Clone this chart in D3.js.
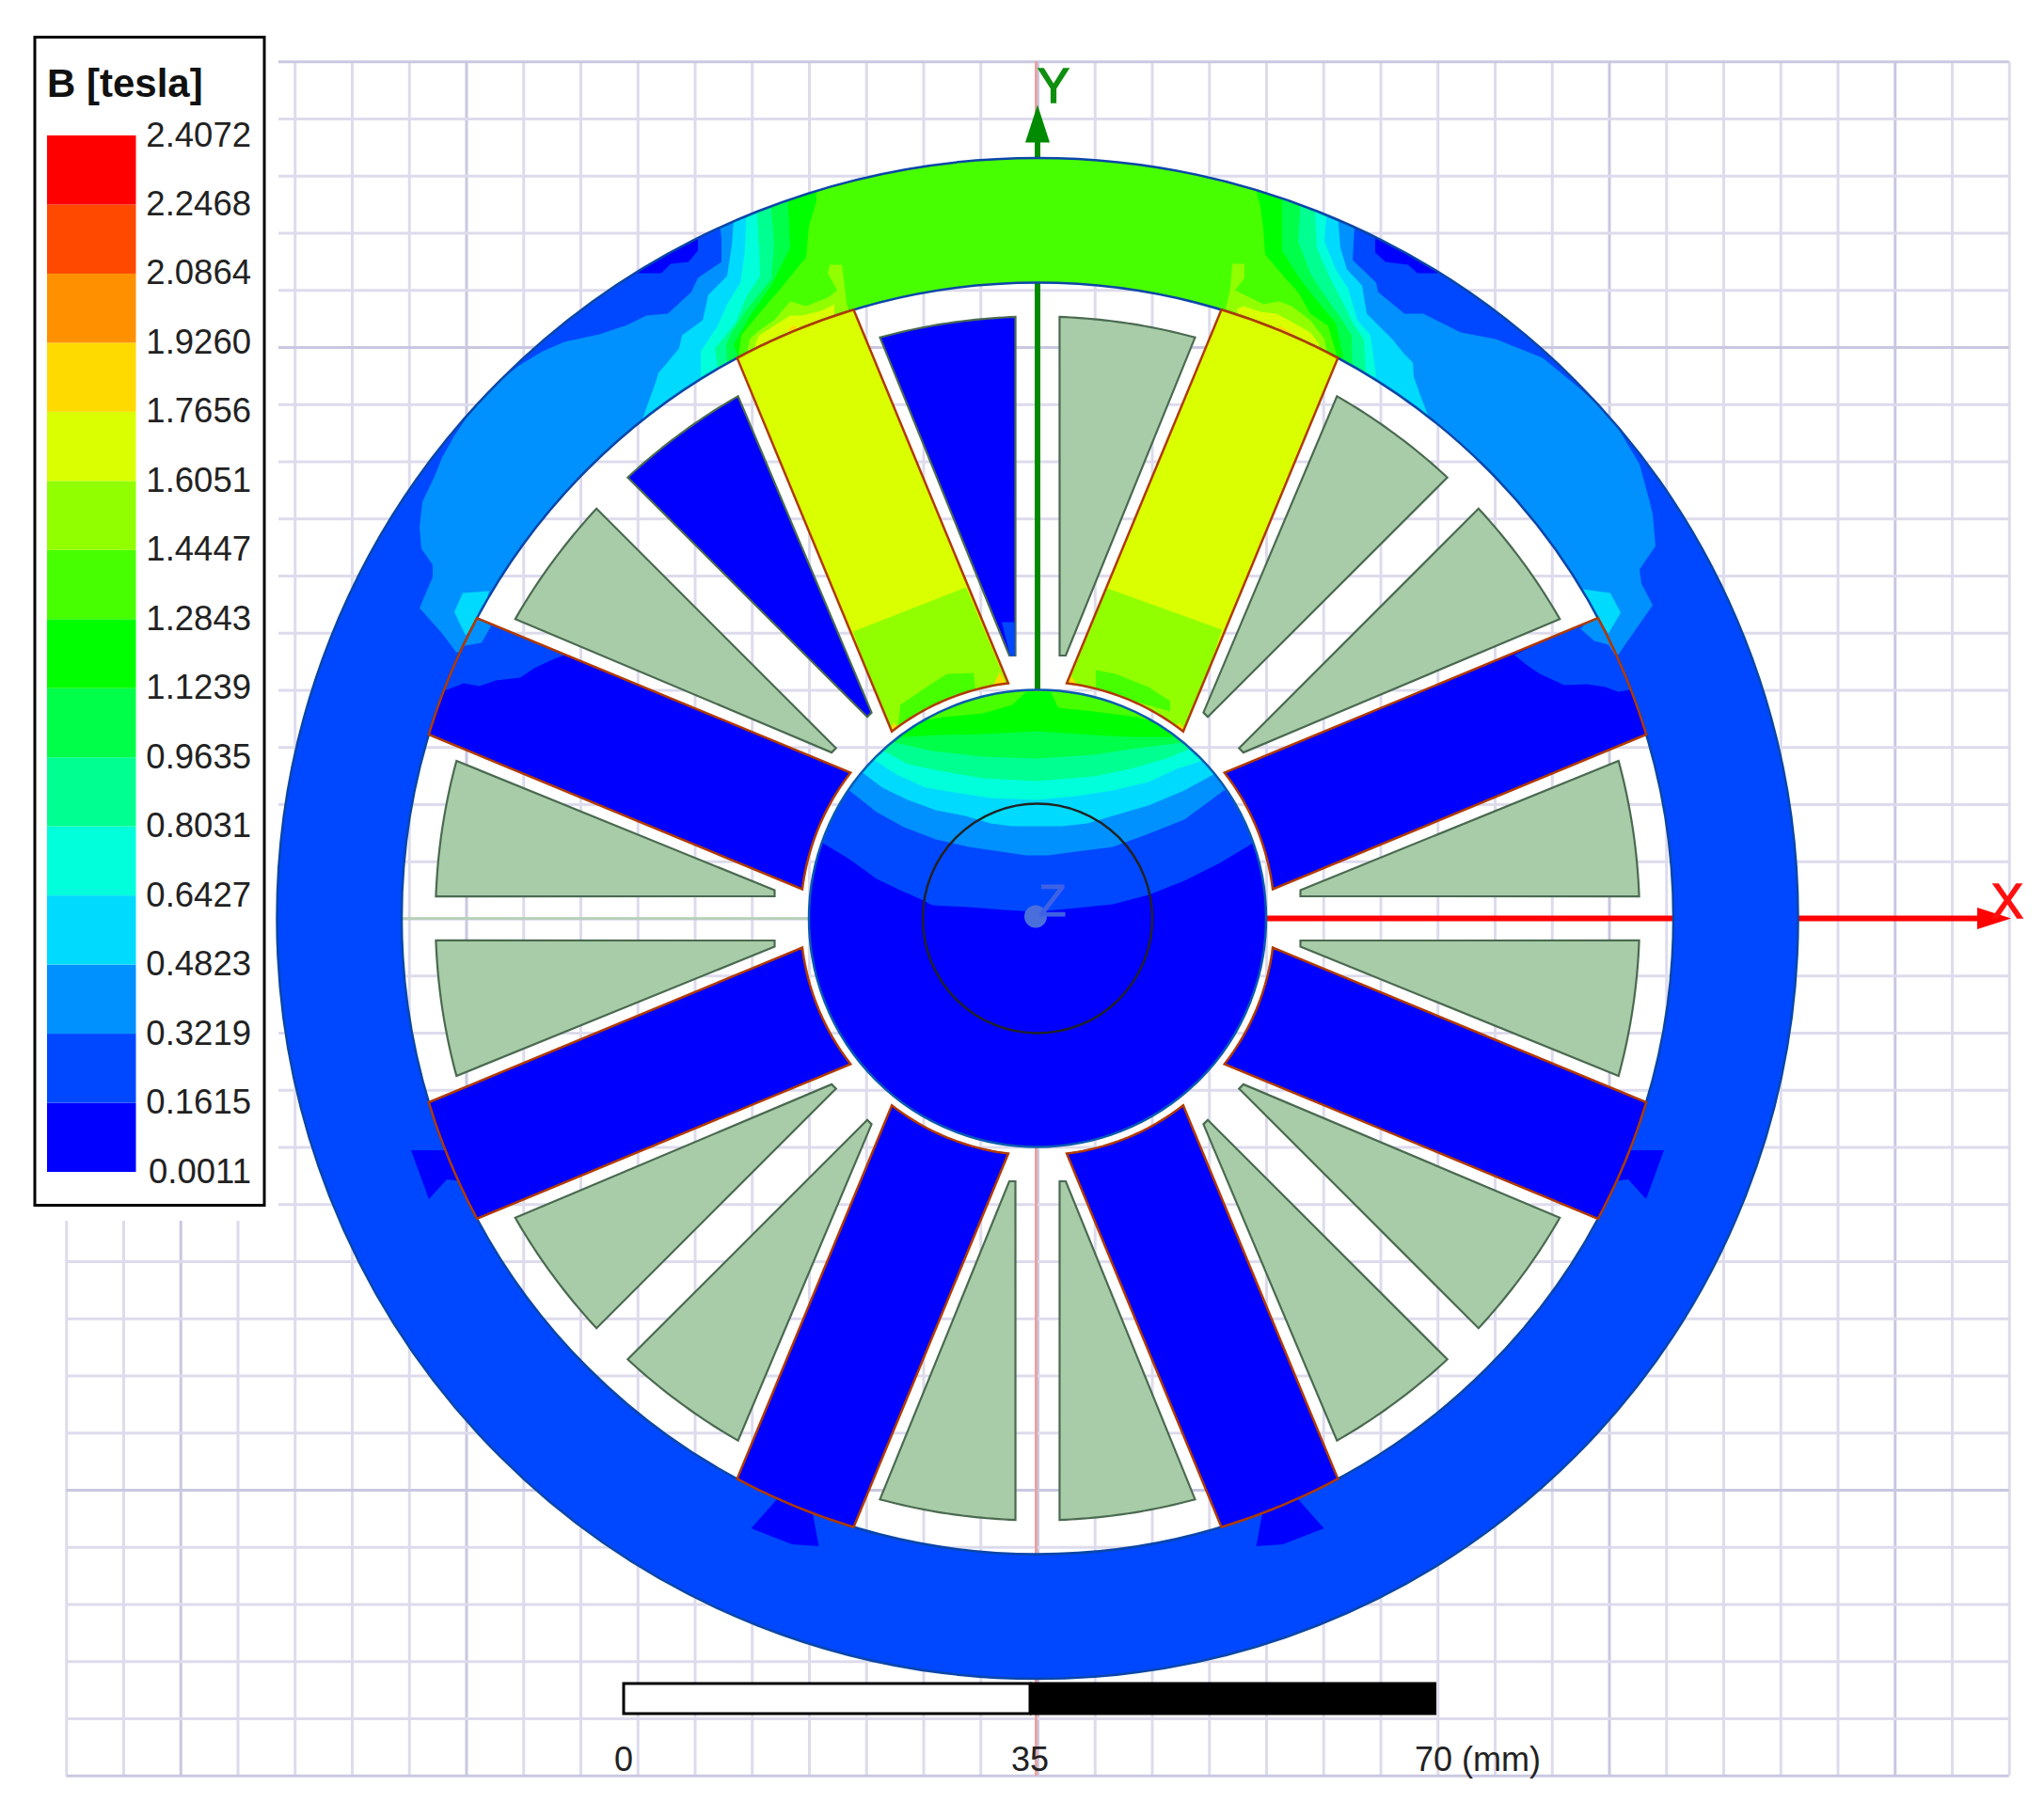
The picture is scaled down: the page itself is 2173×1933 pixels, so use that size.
<!DOCTYPE html>
<html>
<head>
<meta charset="utf-8">
<title>B [tesla]</title>
<script src="https://cdn.jsdelivr.net/npm/d3@7/dist/d3.min.js"></script>
<style>
body { margin: 0; background: #fff; }
text { font-family: "Liberation Sans", Arial, sans-serif; }
</style>
</head>
<body>
<svg width="2173" height="1933"></svg>
<script>
// legend, bottom band first
var legendValues = ["0.0011","0.1615","0.3219","0.4823","0.6427","0.8031","0.9635","1.1239","1.2843","1.4447","1.6051","1.7656","1.9260","2.0864","2.2468","2.4072"];
var bandColors = ["#0000ff","#0048ff","#0091ff","#00daff","#00ffda","#00ff91","#00ff48","#00ff00","#48ff00","#91ff00","#daff00","#ffda00","#ff9100","#ff4800","#ff0000"];
var scaleTicks = [0, 35, 70];
var gridX = d3.range(-17, 18);
var gridY = d3.range(-15, 16);

// machine outline, in model units from the axis origin
var ringOuter = 808.5, ringInner = 676, hubRadius = 243, shaftRadius = 122;
var spokeAngles = [67.5, 112.5, 22.5, 157.5, -22.5, -157.5, -67.5, -112.5];
var liveSpokes = [67.5, 112.5];
var slotAngles = [0, 45, 90, 135, 180, 225, 270, 315];
var liveCoils = ["90:1", "135:-1"];

// contour edges on the yoke, each goes from the bore side to the outer side
var left2 = [[-618,283],[-633,303],[-657,330],[-643,363],[-643,376],[-655,393],[-657,416],[-654,443],[-641,470],[-633,490],[-620,513],[-600,543],[-583,563],[-551,588],[-526,603],[-503,613],[-466,621],[-436,631],[-416,641],[-393,643],[-368,666],[-361,681],[-336,698],[-336,723],[-338,740]];
var left3 = [[-420,531],[-406,570],[-403,580],[-381,606],[-378,620],[-356,636],[-350,663],[-330,683],[-325,716],[-323,743]];
var left4 = [[-358,576],[-358,603],[-340,630],[-330,653],[-316,676],[-311,710],[-310,740]];
var left5 = [[-340,586],[-343,606],[-321,633],[-310,660],[-295,683],[-296,713],[-298,746]];
var left6 = [[-330,591],[-331,610],[-325,623],[-310,646],[-283,680],[-280,716],[-283,753]];
var left7 = [[-318,596],[-323,610],[-306,640],[-283,673],[-263,713],[-265,756]];
var left8 = [[-318,596],[-315,620],[-296,643],[-273,670],[-246,703],[-243,736],[-235,763]];
// right side runs the other way, outer side to bore side
var right8 = [[232,776],[237,756],[240,733],[242,706],[264,680],[277,666],[290,643],[309,630],[319,596]];
var right7 = [[260,761],[260,710],[277,683],[292,663],[317,633],[325,596]];
var right6 = [[279,750],[277,720],[290,686],[300,670],[324,636],[334,620],[335,586]];
var right5 = [[295,750],[297,713],[310,683],[324,656],[337,630],[347,616],[349,580]];
var right4 = [[307,745],[305,720],[317,690],[330,670],[340,636],[354,620],[360,576]];
var right3 = [[320,738],[322,713],[329,690],[345,673],[350,643],[377,616],[390,600],[399,591],[400,576],[407,556],[417,530]];
var right2 = [[337,735],[335,700],[360,676],[362,666],[390,643],[410,643],[450,623],[487,616],[537,596],[577,563],[610,533],[640,483],[650,446],[654,430],[657,396],[640,371],[642,356],[654,333],[617,280]];
var yokeLayers = [[2,left2,right2],[3,left3,right3],[4,left4,right4],[5,left5,right5],[6,left6,right6],[7,left7,right7],[8,left8,right8]];

// small patches on the yoke: [band, points]
var yokePatches = [
  [3, [[-620,326],[-611,346],[-583,348],[-590,320],[-608,301],[-613,311]]],
  [3, [[580,350],[609,346],[620,325],[607,303],[592,323]]],
  [0, [[-361,723],[-361,710],[-371,698],[-390,696],[-400,686],[-425,686],[-425,760],[-361,800]]],
  [0, [[359,723],[359,708],[370,698],[394,695],[404,686],[425,686],[425,760],[359,800]]],
  [0, [[-666,-246.5],[-625,-246.5],[-612,-279.5],[-628,-277.5],[-647,-298.5]]],
  [0, [[666,-246.5],[625,-246.5],[612,-279.5],[628,-277.5],[647,-298.5]]],
  [0, [[-276,-616.5],[-239,-632.5],[-232.5,-667.5],[-261,-665.5],[-304.5,-648.5]]],
  [0, [[276,-616.5],[239,-632.5],[232.5,-667.5],[261,-665.5],[304.5,-648.5]]],
  [9, [[-308,606],[-306,616],[-296,625],[-280,636],[-263,656],[-246,651],[-223,660],[-213,668],[-223,686],[-221,695],[-208,695],[-206,680],[-203,653],[-200,645],[-203,630],[-310,590]]],
  [10, [[-300,611],[-296,620],[-280,630],[-263,641],[-250,641],[-230,646],[-216,653],[-216,646],[-216,630],[-300,590]]],
  [11, [[-265,626],[-260,631],[-255,628],[-260,615]]],
  [9, [[205,670],[207,696],[220,696],[220,681],[210,668],[220,663],[240,653],[257,656],[270,651],[290,636],[305,616],[309,595],[200,630],[200,648]]],
  [10, [[212,648],[219,651],[237,645],[254,643],[267,636],[290,623],[300,610],[290,590],[212,630]]],
  [11, [[255,630],[262,628],[274,620],[255,610]]]
];

// patches inside single spokes: [spoke angle, band, points]
var spokePatches = [
  [157.5, 1, [[-596,323],[-503,280],[-516,275],[-535,266],[-550,256],[-576,253],[-593,247],[-610,250],[-628,243],[-643,243],[-606,326]]],
  [157.5, 2, [[-595,320],[-581,311],[-591,293],[-608,290],[-613,290],[-600,320]]],
  [22.5, 1, [[592,321],[507,280],[522,268],[534,260],[560,248],[584,249],[604,246],[617,241],[630,243],[624,303],[610,323]]],
  [22.5, 2, [[577,308],[592,295],[607,291],[614,280],[624,286],[604,320],[592,321]]],
  [112.5, 9, [[-196,305],[-76,352],[-30,243],[-158,193]]],
  [67.5, 9, [[74,351],[196,307],[158,193],[30,243]]],
  [112.5, 8, [[-146,227],[-112,250],[-96,260],[-68,261],[-66,243],[-148,203]]],
  [67.5, 8, [[62,264],[83,260],[118,246],[141,231],[141,220],[62,243]]],
  [112.5, 11, [[-40,262],[-33,248],[-48,246]]],
  [112.5, 11, [[-153,208],[-145,200],[-157,198]]],
  [67.5, 11, [[36,257],[43,248],[31,248]]],
  [67.5, 11, [[151,208],[157,200],[145,202]]]
];
var coilTip = [[-38,315],[-24,315],[-24,279],[-29,279]];

// lower edge of each contour band on the hub
var hub1 = [[-228,80],[-200,63],[-171,42],[-146,30],[-121,19],[-112,14],[-73,12],[-35,9],[-1,7],[41,11],[80,15],[118,25],[156,40],[194,59],[229,80]];
var hub2 = [[-200,136],[-171,113],[-142,97],[-108,84],[-73,76],[-39,71],[-12,67],[11,67],[41,71],[80,76],[118,90],[156,105],[198,136]];
var hub3 = [[-186,155],[-165,139],[-138,126],[-108,115],[-77,109],[-50,101],[-27,98],[26,98],[53,101],[80,109],[118,120],[156,136],[187,153]];
var hub4 = [[-173,168],[-150,153],[-119,139],[-89,134],[-50,128],[-1,126],[41,130],[80,136],[118,145],[148,159],[177,168]];
var hub5 = [[-163,178],[-138,164],[-104,157],[-58,149],[-1,146],[60,151],[99,159],[137,170],[166,182]];
var hub6 = [[-152,187],[-112,178],[-58,172],[-1,170],[60,174],[99,180],[154,187]];
var hub7 = [[-142,193],[-104,195],[-58,196],[-1,199],[60,195],[99,193],[141,193]];
var hub8 = [[-135,208],[-100,214],[-58,218],[-27,227],[-12,241],[14,241],[22,224],[60,220],[106,214],[133,206]];
var hubLayers = [[1,hub1],[2,hub2],[3,hub3],[4,hub4],[5,hub5],[6,hub6],[7,hub7],[8,hub8]];

var svg = d3.select("svg");

var x = d3.scaleLinear().domain([-1103, 1070]).range([0, 2173]);
var y = d3.scaleLinear().domain([976.5, -956.5]).range([0, 1933]);
var gridStep = 60.75;
var line = d3.line().x(function(d){ return x(d[0]); }).y(function(d){ return y(d[1]); });
var shape = function(pts){ return line(pts) + "Z"; };
var rad = function(deg){ return deg * Math.PI / 180; };
var polar = function(r, deg){ return [r * Math.cos(rad(deg)), r * Math.sin(rad(deg))]; };
var arcPts = function(r, a0, a1){
  return d3.range(0, 25).map(function(i){ return polar(r, a0 + (a1 - a0) * i / 24); });
};

// grid, drawn with the axis generators
var gridColor = function(k){ return k % 10 === 0 || k === -15 || k === 15 ? "#c9c8e1" : "#dddbec"; };
var gridTop = y(gridY[30] * gridStep), gridBottom = y(gridY[0] * gridStep);
var gridLeft = x(gridX[0] * gridStep), gridRight = x(gridX[34] * gridStep);
var gx = svg.append("g").attr("transform", "translate(0," + gridTop + ")")
  .call(d3.axisBottom(x).tickValues(gridX.map(function(k){ return k * gridStep; })).tickFormat("").tickSize(gridBottom - gridTop).tickSizeOuter(0));
gx.select(".domain").remove();
gx.selectAll(".tick line").attr("stroke-width", 3)
  .attr("stroke", function(d, i){ return gridColor(gridX[i]); });
var gy = svg.append("g").attr("transform", "translate(" + gridLeft + ",0)")
  .call(d3.axisRight(y).tickValues(gridY.map(function(k){ return k * gridStep; })).tickFormat("").tickSize(gridRight - gridLeft).tickSizeOuter(0));
gy.select(".domain").remove();
gy.selectAll(".tick line").attr("stroke-width", 3)
  .attr("stroke", function(d, i){ return gridColor(gridY[i]); });
// legend corner has no grid
svg.append("rect").attr("x", 0).attr("y", 0).attr("width", 296).attr("height", 1298).attr("fill", "#fff");

// axis lines behind the solids
svg.append("path").attr("d", line([[-1.5, y.invert(65)], [-1.5, y.invert(1888)]])).attr("stroke", "#e8a3a3").attr("stroke-width", 3).attr("fill", "none");
svg.append("path").attr("d", line([[-ringInner, 0], [0, 0]])).attr("stroke", "#b4d2b4").attr("stroke-width", 2.5).attr("fill", "none");
svg.append("path").attr("d", line([[0, 0], [0, 830]])).attr("stroke", "#008a00").attr("stroke-width", 6).attr("fill", "none");
svg.append("path").attr("d", line([[0, 0], [1000, 0]])).attr("stroke", "#ff0000").attr("stroke-width", 6).attr("fill", "none");

var defs = svg.append("defs");
var ringArc = d3.arc().innerRadius(x(ringInner) - x(0)).outerRadius(x(ringOuter) - x(0)).startAngle(0).endAngle(2 * Math.PI);
var originShift = "translate(" + x(0) + "," + y(0) + ")";
defs.append("clipPath").attr("id", "ring-clip").append("path").attr("d", ringArc()).attr("transform", originShift);
defs.append("clipPath").attr("id", "hub-clip").append("circle").attr("cx", x(0)).attr("cy", y(0)).attr("r", x(hubRadius) - x(0));

// yoke
var ring = svg.append("g").attr("clip-path", "url(#ring-clip)");
ring.append("circle").attr("cx", x(0)).attr("cy", y(0)).attr("r", x(ringOuter) - x(0)).attr("fill", bandColors[1]);
ring.selectAll(".yoke").data(yokeLayers).enter().append("path")
  .attr("fill", function(d){ return bandColors[d[0]]; })
  .attr("d", function(d){
    var l = d[1], r = d[2];
    return shape(l.concat([[l[l.length - 1][0], 900], [r[0][0], 900]], r));
  });
ring.selectAll(".patch").data(yokePatches).enter().append("path")
  .attr("fill", function(d){ return bandColors[d[0]]; })
  .attr("d", function(d){ return shape(d[1]); });
[ringOuter, ringInner].forEach(function(r){
  svg.append("circle").attr("cx", x(0)).attr("cy", y(0)).attr("r", x(r) - x(0))
    .attr("fill", "none").attr("stroke", "#0a46a8").attr("stroke-width", 2.5);
});

// coils
var coilPoints = function(angle, side){
  var local = [[279.5, 23.5], [279.5, 30]];
  arcPts(ringInner - 36, 15.17, 2.1).forEach(function(p){ local.push(p); });
  return local.map(function(p){
    var b = p[1] * side, c = Math.cos(rad(angle)), s = Math.sin(rad(angle));
    return [p[0] * c - b * s, p[0] * s + b * c];
  });
};
var coils = [];
slotAngles.forEach(function(a){ coils.push([a, 1]); coils.push([a, -1]); });
svg.selectAll(".coil").data(coils).enter().append("path")
  .attr("d", function(d){ return shape(coilPoints(d[0], d[1])); })
  .attr("fill", function(d){ return liveCoils.indexOf(d[0] + ":" + d[1]) >= 0 ? bandColors[0] : "#a8cca8"; })
  .attr("stroke", "#4a6a50").attr("stroke-width", 2.2);
svg.append("path").attr("d", shape(coilTip)).attr("fill", bandColors[1]);

// spokes
var spokePoints = function(angle){
  var half = 67, da = Math.asin(half / ringInner) * 180 / Math.PI, db = Math.asin(half / 252) * 180 / Math.PI;
  return arcPts(ringInner, angle - da, angle + da).concat(arcPts(252, angle + db, angle - db));
};
spokeAngles.forEach(function(a, i){
  defs.append("clipPath").attr("id", "spoke-" + i).append("path").attr("d", shape(spokePoints(a)));
  var g = svg.append("g").attr("clip-path", "url(#spoke-" + i + ")");
  g.append("path").attr("d", shape(spokePoints(a)))
    .attr("fill", liveSpokes.indexOf(a) >= 0 ? bandColors[10] : bandColors[0]);
  g.selectAll("path.p").data(spokePatches.filter(function(d){ return d[0] === a; })).enter().append("path")
    .attr("class", "p")
    .attr("fill", function(d){ return bandColors[d[1]]; })
    .attr("d", function(d){ return shape(d[2]); });
  svg.append("path").attr("d", shape(spokePoints(a))).attr("fill", "none")
    .attr("stroke", "#b03a00").attr("stroke-width", 2.5);
});

// hub
var hub = svg.append("g").attr("clip-path", "url(#hub-clip)");
hub.append("circle").attr("cx", x(0)).attr("cy", y(0)).attr("r", x(hubRadius) - x(0)).attr("fill", bandColors[0]);
hub.selectAll(".band").data(hubLayers).enter().append("path")
  .attr("fill", function(d){ return bandColors[d[0]]; })
  .attr("d", function(d){
    var p = d[1], a = p[0], b = p[p.length - 1];
    return shape([[-320, a[1]]].concat(p, [[320, b[1]], [320, 320], [-320, 320]]));
  });
svg.append("circle").attr("cx", x(0)).attr("cy", y(0)).attr("r", x(hubRadius) - x(0)).attr("fill", "none").attr("stroke", "#0a5ab0").attr("stroke-width", 2.5);
svg.append("circle").attr("cx", x(0)).attr("cy", y(0)).attr("r", x(shaftRadius) - x(0)).attr("fill", "none").attr("stroke", "#222").attr("stroke-width", 2.5);

// arrowheads and axis names
svg.append("path").attr("d", shape([[0, 865], [-13, 825], [13, 825]])).attr("fill", "#008a00");
svg.append("path").attr("d", shape([[1035, 0], [999, 11.5], [999, -11.5]])).attr("fill", "#ff0000");
svg.append("text").attr("x", x(0)).attr("y", 109).attr("font-size", 51).attr("fill", "#0f8f0f").attr("stroke", "#0f8f0f").attr("stroke-width", 1.5).text("Y");
svg.append("text").attr("x", 2117).attr("y", 976).attr("font-size", 51).attr("fill", "#ff1010").attr("stroke", "#ff1010").attr("stroke-width", 1.5).text("X");
svg.append("circle").attr("cx", x(-2)).attr("cy", y(2)).attr("r", 12).attr("fill", "#4a6fdc");
svg.append("text").attr("x", 1104).attr("y", 974).attr("font-size", 48).attr("fill", "#3f62e4").attr("stroke", "#3f62e4").attr("stroke-width", 1).text("Z");

// legend
var legendY = d3.scaleLinear().domain([0, 15]).range([1246, 144]);
svg.append("rect").attr("x", 37).attr("y", 39.5).attr("width", 244).attr("height", 1242).attr("fill", "#fff").attr("stroke", "#000").attr("stroke-width", 3);
svg.append("text").attr("x", 50).attr("y", 103).attr("font-size", 42).attr("font-weight", "bold").attr("fill", "#111").text("B [tesla]");
svg.selectAll(".swatch").data(bandColors).enter().append("rect")
  .attr("x", 50).attr("width", 94.5)
  .attr("y", function(d, i){ return legendY(i + 1); })
  .attr("height", function(d, i){ return legendY(i) - legendY(i + 1); })
  .attr("fill", function(d){ return d; });
svg.selectAll(".value").data(legendValues).enter().append("text")
  .attr("x", 267).attr("text-anchor", "end").attr("font-size", 36.5).attr("fill", "#222")
  .attr("y", function(d, i){ return legendY(i) + 11.5; })
  .text(function(d){ return d; });

// scale bar
var bar = d3.scaleLinear().domain([0, 70]).range([663, 1527]);
svg.append("rect").attr("x", bar(0)).attr("y", 1790).attr("width", bar(35) - bar(0)).attr("height", 32).attr("fill", "#fff").attr("stroke", "#000").attr("stroke-width", 3);
svg.append("rect").attr("x", bar(35)).attr("y", 1788.5).attr("width", bar(70) - bar(35)).attr("height", 35).attr("fill", "#000");
svg.selectAll(".scale-label").data(scaleTicks).enter().append("text")
  .attr("x", function(d){ return d === 70 ? bar(d) - 23 : bar(d); })
  .attr("y", 1883).attr("font-size", 36).attr("fill", "#222")
  .attr("text-anchor", function(d){ return d === 70 ? "start" : "middle"; })
  .text(function(d){ return d === 70 ? d + " (mm)" : d; });
</script>
</body>
</html>
